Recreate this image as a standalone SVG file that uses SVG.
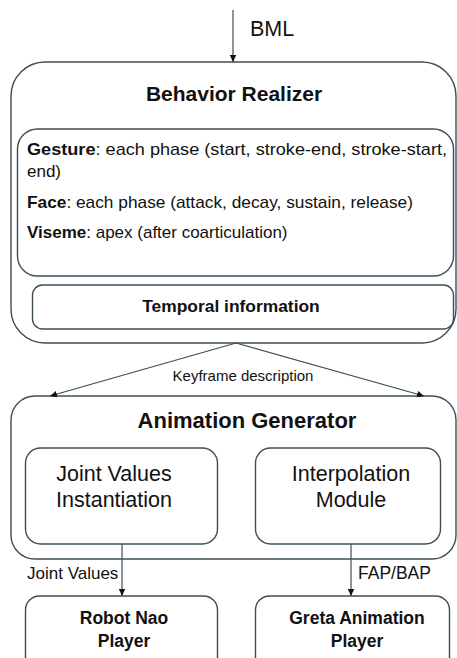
<svg xmlns="http://www.w3.org/2000/svg" width="457" height="658" viewBox="0 0 457 658">
<style>
.box{fill:none;stroke:#3f4d57;stroke-width:1.4}
.ln{fill:none;stroke:#3f4d57;stroke-width:1.2}
text{font-family:"Liberation Sans",Arial,sans-serif;fill:#111}
.b{font-weight:bold}
</style>
<defs>
<marker id="ah" markerWidth="8" markerHeight="8" refX="7" refY="4" orient="auto" markerUnits="userSpaceOnUse">
<path d="M0,0.8 L7,4 L0,7.2 Z" fill="#111"/>
</marker>
</defs>
<rect width="457" height="658" fill="#fff"/>
<g id="behavior-realizer">
<rect class="box" x="11" y="62" width="445" height="281" rx="34" ry="34"/>
<text class="b" x="234" y="101" font-size="21" text-anchor="middle">Behavior Realizer</text>
</g>
<g id="phases">
<rect class="box" x="17.5" y="129" width="436" height="147" rx="20" ry="20"/>
<text x="27" y="155" font-size="17" textLength="420" lengthAdjust="spacingAndGlyphs"><tspan class="b">Gesture</tspan>: each phase (start, stroke-end, stroke-start,</text>
<text x="27" y="177" font-size="17">end)</text>
<text x="27" y="208" font-size="17" textLength="386" lengthAdjust="spacingAndGlyphs"><tspan class="b">Face</tspan>: each phase (attack, decay, sustain, release)</text>
<text x="27" y="238" font-size="17"><tspan class="b">Viseme</tspan>: apex (after coarticulation)</text>
</g>
<g id="temporal">
<rect class="box" x="32.5" y="285" width="421" height="44" rx="10" ry="10"/>
<text class="b" x="231" y="312" font-size="17.4" text-anchor="middle">Temporal information</text>
</g>
<g id="animation-generator">
<rect class="box" x="11" y="396" width="445" height="163" rx="24" ry="24"/>
<text class="b" x="247" y="428" font-size="22" text-anchor="middle">Animation Generator</text>
</g>
<g id="joint-values">
<rect class="box" x="25.5" y="448" width="192" height="96" rx="15" ry="15"/>
<text x="114" y="481" font-size="21.5" text-anchor="middle">Joint Values</text>
<text x="114" y="507" font-size="21.5" text-anchor="middle">Instantiation</text>
</g>
<g id="interpolation">
<rect class="box" x="255.5" y="448" width="185" height="96" rx="15" ry="15"/>
<text x="351" y="481" font-size="21.5" text-anchor="middle">Interpolation</text>
<text x="351" y="507" font-size="21.5" text-anchor="middle">Module</text>
</g>
<g id="robot-nao">
<rect class="box" x="25.5" y="596" width="192" height="80" rx="14" ry="14"/>
<text class="b" x="124" y="624" font-size="17.5" text-anchor="middle">Robot Nao</text>
<text class="b" x="124" y="647" font-size="17.5" text-anchor="middle">Player</text>
</g>
<g id="greta">
<rect class="box" x="255.5" y="596" width="194" height="80" rx="14" ry="14"/>
<text class="b" x="357" y="624" font-size="17.5" text-anchor="middle">Greta Animation</text>
<text class="b" x="357" y="647" font-size="17.5" text-anchor="middle">Player</text>
</g>
<g id="connectors">
<line class="ln" x1="233" y1="10" x2="233" y2="62" marker-end="url(#ah)"/>
<text x="250" y="36" font-size="21.5">BML</text>
<line class="ln" x1="236" y1="343" x2="50" y2="396" marker-end="url(#ah)"/>
<line class="ln" x1="236" y1="343" x2="424" y2="396" marker-end="url(#ah)"/>
<text x="243" y="381" font-size="15" text-anchor="middle" fill="#333">Keyframe description</text>
<line class="ln" x1="122" y1="544" x2="122" y2="596" marker-end="url(#ah)"/>
<line class="ln" x1="351" y1="544" x2="351" y2="596" marker-end="url(#ah)"/>
<text x="27" y="579" font-size="17">Joint Values</text>
<text x="358" y="579" font-size="17.5">FAP/BAP</text>
</g>
</svg>
